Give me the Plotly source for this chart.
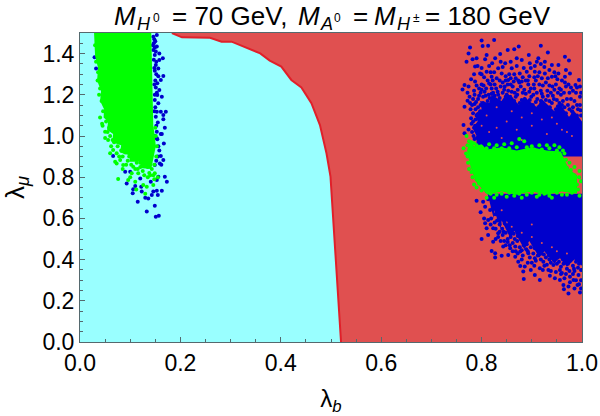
import plotly.graph_objects as go

# boundary of the allowed region
boundary_x = [0.0, 0.183, 0.203, 0.259, 0.282, 0.302, 0.359, 0.378, 0.401, 0.421, 0.441, 0.461, 0.478, 0.491, 0.499, 0.52]
boundary_y = [1.5, 1.5, 1.479, 1.477, 1.458, 1.458, 1.401, 1.366, 1.337, 1.272, 1.236, 1.159, 1.053, 0.916, 0.803, 0.0]

# solid point clouds (jagged outlines)
green_left_x = [0.028, 0.030, 0.036, 0.034, 0.042, 0.040, 0.048, 0.047, 0.056, 0.054, 0.066, 0.064, 0.082, 0.080, 0.100, 0.098, 0.122, 0.118, 0.142, 0.147, 0.151, 0.149, 0.146, 0.142]
green_left_y = [1.5, 1.39, 1.33, 1.27, 1.22, 1.17, 1.13, 1.09, 1.07, 1.03, 1.01, 0.97, 0.955, 0.92, 0.905, 0.875, 0.875, 0.845, 0.84, 0.90, 0.95, 1.00, 1.05, 1.5]
blue_up_x = [0.79, 0.782, 0.792, 0.788, 0.80, 0.797, 0.815, 0.82, 0.84, 0.85, 0.875, 0.885, 0.91, 0.92, 0.945, 0.955, 0.975, 0.982, 1.0, 1.0, 0.79]
blue_up_y = [1.0, 1.04, 1.07, 1.11, 1.13, 1.17, 1.16, 1.20, 1.17, 1.21, 1.15, 1.19, 1.14, 1.18, 1.12, 1.16, 1.09, 1.13, 1.07, 0.90, 0.90]
blue_low_x = [0.812, 1.0, 1.0, 0.985, 0.97, 0.955, 0.945, 0.925, 0.915, 0.895, 0.885, 0.865, 0.858, 0.84, 0.838, 0.825, 0.824]
blue_low_y = [0.72, 0.72, 0.37, 0.40, 0.365, 0.41, 0.38, 0.44, 0.41, 0.49, 0.45, 0.54, 0.50, 0.59, 0.55, 0.64, 0.60]
green_right_x = [0.771, 0.778, 0.785, 0.80, 0.81, 0.84, 0.87, 0.90, 0.93, 0.958, 0.966, 0.974, 0.99, 0.99, 0.96, 0.93, 0.90, 0.87, 0.84, 0.812, 0.80, 0.788, 0.778]
green_right_y = [0.93, 0.98, 0.95, 0.96, 0.935, 0.945, 0.93, 0.945, 0.93, 0.925, 0.88, 0.84, 0.81, 0.72, 0.73, 0.715, 0.73, 0.715, 0.73, 0.715, 0.745, 0.78, 0.85]

# individually read blue points
blue_pts = [
 (.777,1.43),(.800,1.463),(.802,1.437),(.813,1.438),(.825,1.466),(.852,1.418),(.865,1.421),(.874,1.434),(.918,1.438),(.932,1.405),
 (.966,1.385),(.974,1.366),(.774,1.401),(.782,1.372),(.770,1.361),(.790,1.377),(.787,1.337),(.810,1.393),(.807,1.372),(.827,1.377),
 (.837,1.398),(.821,1.353),(.847,1.353),(.833,1.329),(.870,1.377),(.880,1.369),(.894,1.393),(.913,1.377),(.910,1.361),(.896,1.353),
 (.940,1.345),(.953,1.345),(.926,1.361),(.953,1.304),(.994,1.272),(.976,1.304),(.966,1.288),(.987,1.248),(.779,1.275),(.766,1.248),
 (.774,1.24),(.762,1.226),(.787,1.264),(.797,1.304),(.810,1.312),(.820,1.288),(.840,1.304),(.860,1.329),(.876,1.304),(.890,1.312),
 (.906,1.312),(.926,1.304),(.940,1.288),(.853,1.272),(.766,1.142),(.764,1.053),(.774,1.032),(.766,1.013),(.779,1.086),(.772,1.171),
 (.783,1.18),(.790,1.10),(.795,1.06),(.785,1.22),(.800,1.25),(.812,1.27),(.826,1.25),(.836,1.27),(.846,1.24),(.858,1.25),
 (.868,1.28),(.878,1.24),(.888,1.27),(.898,1.23),(.908,1.27),(.918,1.22),(.928,1.26),(.938,1.21),(.948,1.25),(.958,1.20),
 (.968,1.24),(.978,1.18),(.988,1.21),(.996,1.15),(.996,1.19),(.982,1.14),(.962,1.17),(.944,1.18),(.903,1.20),(.866,1.21),
 (.850,1.20),(.912,1.29),(.960,1.27),(.898,1.33),(.870,1.34),(.815,1.34),(.800,1.33),(.785,1.30),(.772,1.21),(.777,1.16),
 (.945,1.31),(.882,1.285),(.842,1.335),(.925,1.335),(.855,1.30),(.805,1.285),(.795,1.23),(.820,1.23),(.990,1.10),(.780,1.06),
 # semi-dense upper cloud
 (.776,1.19),(.781,1.15),(.788,1.13),(.786,1.20),(.793,1.18),(.798,1.21),(.803,1.19),(.809,1.23),(.814,1.20),(.818,1.25),
 (.823,1.21),(.829,1.23),(.833,1.20),(.838,1.24),(.842,1.21),(.848,1.27),(.853,1.22),(.857,1.19),(.862,1.24),(.871,1.20),
 (.875,1.26),(.882,1.21),(.886,1.18),(.893,1.25),(.899,1.19),(.905,1.23),(.911,1.18),(.915,1.25),(.922,1.19),(.931,1.22),
 (.935,1.17),(.941,1.24),(.952,1.21),(.955,1.16),(.964,1.21),(.972,1.15),(.975,1.21),(.985,1.17),(.992,1.13),(.998,1.10),
 (.783,1.11),(.788,1.08),(.785,1.04),(.792,1.02),(.798,1.15),(.803,1.16),(.812,1.17),(.822,1.18),(.828,1.17),(.845,1.17),
 (.855,1.16),(.865,1.17),(.876,1.16),(.892,1.16),(.902,1.15),(.913,1.14),(.925,1.15),(.936,1.14),(.948,1.13),(.958,1.13),
 (.968,1.11),(.978,1.09),(.985,1.07),(.995,1.06),(.791,.99),(.786,.985),(.797,.975),(.803,.97),(.80,1.30),(.825,1.31),
 (.848,1.29),(.865,1.30),(.873,1.27),(.895,1.29),(.915,1.31),(.932,1.28),(.955,1.23),(.973,1.25),(.982,1.22),(.998,1.21),
 (.792,1.34),(.818,1.31),(.838,1.36),(.858,1.36),(.884,1.33),(.906,1.34),(.918,1.35),(.935,1.32),(.947,1.29),(.968,1.32),
 (.789,1.165),(.795,1.195),(.806,1.215),(.816,1.185),(.826,1.195),(.836,1.185),(.848,1.19),(.860,1.18),(.868,1.19),(.880,1.175),
 (.888,1.205),(.896,1.175),(.908,1.165),(.918,1.17),(.928,1.175),(.940,1.16),(.950,1.175),(.960,1.15),(.970,1.18),(.980,1.12),
 (.990,1.15),(.997,1.125),(.987,1.09),(.975,1.13),(.965,1.14),(.952,1.145),(.942,1.195),(.932,1.195),(.920,1.205),(.910,1.21),
 (.895,1.215),(.885,1.225),(.872,1.225),(.860,1.215),(.845,1.225),(.832,1.215),(.820,1.205),(.808,1.195),(.800,1.225),(.790,1.245),
 (.778,1.13),(.783,1.07),(.787,1.05),(.781,1.02),(.793,1.09),(.797,1.12),(.793,1.14),(.786,1.155),(.804,1.245),(.815,1.255),
 (.830,1.28),(.842,1.26),(.852,1.25),(.864,1.265),(.880,1.265),(.892,1.27),(.904,1.25),(.922,1.245),(.935,1.245),(.945,1.225),
 (.958,1.225),(.966,1.26),(.978,1.235),(.990,1.235),(.996,1.24),(.951,1.275),(.920,1.28),(.905,1.285),(.858,1.28),(.822,1.27),
 (.794,1.00),(.784,1.00),(.789,1.025),(.798,.99),(.806,.985),(.812,.975),(.825,.965),(.840,.97),(.855,.975),(.870,.975),
 # lower cloud edge
 (.790,.686),(.798,.630),(.805,.600),(.807,.576),(.810,.552),(.800,.500),(.813,.520),(.823,.487),(.820,.442),(.827,.431),
 (.827,.410),(.840,.419),(.843,.463),(.857,.455),(.853,.422),(.867,.414),(.873,.390),(.877,.369),(.886,.366),(.883,.342),
 (.898,.350),(.906,.325),(.884,.306),(.916,.301),(.916,.358),(.933,.350),(.936,.321),(.946,.309),(.956,.301),(.963,.277),
 (.973,.269),(.964,.256),(.973,.236),(.996,.240),(.991,.277),(.983,.301),(.993,.325),(.976,.317),(.956,.350),(.943,.374),
 (.923,.390),(.906,.406),(.893,.431),(.877,.439),(.867,.463),(.833,.528),(.823,.552),(.813,.592),(.817,.641),(.807,.657),
 (.803,.681),(.813,.693),(.823,.673),(.835,.60),(.828,.50),(.845,.49),(.868,.44),(.90,.385),(.93,.375),(.96,.335),
 (.985,.345),(.998,.30),(.975,.345),(.95,.38),
 (.816,.70),(.822,.65),(.827,.62),(.819,.60),(.826,.58),(.831,.59),(.818,.57),(.828,.55),(.836,.57),(.841,.55),
 (.833,.51),(.842,.52),(.848,.53),(.838,.49),(.852,.50),(.858,.51),(.848,.47),(.862,.48),(.871,.49),(.856,.47),
 (.876,.46),(.884,.47),(.889,.45),(.872,.43),(.882,.42),(.896,.41),(.903,.43),(.912,.42),(.919,.43),(.928,.41),
 (.935,.40),(.945,.40),(.954,.39),(.963,.38),(.972,.38),(.982,.37),(.992,.36),(.998,.35),(.925,.37),(.938,.345),
 (.948,.34),(.968,.33),(.982,.33),(.965,.31),(.976,.29),(.988,.30),(.994,.28),(.985,.26),(.998,.26),(.958,.33),
 (.832,.63),(.836,.615),(.842,.60),(.846,.575),(.852,.56),(.858,.545),(.864,.525),(.872,.515),(.878,.50),(.884,.49),
 (.890,.475),(.898,.46),(.906,.455),(.914,.44),(.924,.425),(.934,.42),(.944,.415),(.952,.41),(.962,.40),(.976,.395),
 (.988,.39),(.994,.38),(.844,.535),(.836,.535),(.852,.485),(.866,.50),(.880,.445),(.892,.44),(.908,.395),(.918,.40),
 (.938,.385),(.958,.365),(.970,.355),(.984,.355),(.922,.35),(.905,.37),(.892,.385),(.880,.40),(.862,.44),
 # left cluster
 (.151,.608),(.157,.613),(.133,.633),(.149,.662),(.115,.681),(.136,.697),(.130,.700),(.143,.713),(.155,.713),(.146,.730),
 (.163,.734),(.105,.722),(.106,.741),(.110,.757),(.122,.754),(.123,.730),(.153,.734),(.173,.778),(.169,.802),(.153,.786),
 (.141,.778),(.156,.802),(.093,.770),(.090,.827),(.100,.827),(.120,.794),(.166,.883),(.161,.903),(.159,.867),(.149,.859),
 (.167,.964),(.161,1.01),(.154,.984),(.066,.903),(.096,.929),(.082,.967),
 (.146,1.482),(.153,1.49),(.147,1.45),(.153,1.434),(.146,1.417),(.149,1.393),(.158,1.401),(.165,1.377),(.158,1.369),(.151,1.345),
 (.156,1.328),(.149,1.317),(.166,1.291),(.161,1.272),(.154,1.256),(.151,1.236),(.158,1.223),(.154,1.199),(.163,1.191),(.149,1.175),
 (.156,1.159),(.153,1.118),(.161,1.118),(.171,1.118),(.166,1.102),(.151,1.094),(.166,1.081),(.155,1.065),(.169,1.040),(.153,1.021),
 (.163,1.010),(.149,1.0),(.153,.989),(.029,1.382),(.032,1.328),(.148,1.47),(.150,1.46),(.145,1.44),(.149,1.43),(.151,1.41),
 (.147,1.37),(.152,1.36),(.148,1.33),(.152,1.30),(.150,1.27),(.156,1.29),(.148,1.25),(.153,1.21),(.149,1.20),(.150,1.14),
 (.148,1.12),(.152,1.05),(.156,.95),(.158,.93),(.155,.90),(.162,.86),(.152,.88),
]
blue_x = [p[0] for p in blue_pts]
blue_y = [p[1] for p in blue_pts]

# individually read green points
green_pts = [
 (.076,.791),(.103,.819),(.133,.754),(.096,.786),(.116,.819),(.086,.859),(.070,.875),(.080,.883),(.060,.916),(.056,.980),
 (.050,1.021),(.073,.867),(.110,.778),(.126,.762),(.146,.762),(.149,.819),(.106,.851),(.066,.932),(.073,.916),(.045,1.05),
 (.040,1.09),(.050,.99),(.062,.95),(.085,.90),(.095,.88),(.110,.84),(.125,.83),(.135,.80),(.100,.80),(.085,.84),
 (.120,.85),(.140,.81),(.155,.80),(.130,.72),(.112,.74),(.148,.79),(.038,1.20),(.035,1.27),
 (.030,1.44),(.032,1.36),(.036,1.31),(.040,1.23),(.043,1.17),(.046,1.12),(.044,1.06),(.052,1.07),(.055,1.02),(.060,1.00),
 (.068,.97),(.075,.95),(.082,.93),(.090,.92),(.098,.90),(.105,.89),(.113,.87),(.120,.87),(.128,.86),(.135,.85),
 (.143,.84),(.148,.86),(.152,.90),(.153,.95),(.151,1.00),(.150,1.04),(.078,.90),(.092,.86),(.102,.86),(.115,.84),
 (.128,.81),(.138,.82),(.146,.81),(.065,.98),(.058,1.04),
 # right band edges
 (.764,.94),(.770,1.0),(.775,.975),(.785,.965),(.772,.90),(.775,.84),(.782,.80),(.785,.765),(.790,.75),(.800,.735),
 (.815,.96),(.83,.955),(.845,.96),(.860,.965),(.875,.985),(.885,.975),(.90,.95),(.915,.955),(.93,.955),(.945,.955),
 (.955,.945),(.965,.915),(.975,.87),(.985,.85),(.995,.83),(.998,.78),(.985,.74),(.995,.71),(.97,.715),(.94,.70),
 (.91,.705),(.88,.70),(.85,.705),(.825,.70),(.81,.70),
 (.772,.955),(.777,.93),(.769,.915),(.773,.87),(.778,.885),(.78,.825),(.785,.835),(.79,.79),(.795,.77),(.803,.755),
 (.81,.73),(.818,.72),(.83,.715),(.84,.72),(.855,.725),(.865,.71),(.875,.72),(.89,.715),(.90,.725),(.915,.715),
 (.925,.72),(.935,.71),(.95,.725),(.96,.715),(.98,.725),(.992,.74),(.99,.765),(.994,.80),(.985,.81),(.978,.835),
 (.97,.845),(.968,.885),(.962,.93),(.95,.93),(.935,.94),(.92,.935),(.905,.935),(.89,.945),(.87,.945),(.855,.94),
 (.84,.94),(.825,.94),(.81,.94),(.80,.945),(.79,.955),(.78,.97),
]
green_x = [p[0] for p in green_pts]
green_y = [p[1] for p in green_pts]

# red gaps left visible in the blue clouds
gap_pts = [
 (.83,1.14),(.86,1.12),(.88,1.09),(.90,1.11),(.92,1.08),(.94,1.09),(.85,1.07),(.87,1.03),(.90,1.05),(.83,1.04),
 (.95,1.06),(.97,1.02),(.96,1.03),(.81,1.10),(.80,1.05),(.815,1.02),(.93,1.01),(.98,1.00),(.84,.99),(.88,.98),
 (.84,.64),(.85,.58),(.86,.56),(.88,.53),(.90,.51),(.92,.48),(.94,.46),(.95,.44),(.90,.57),(.97,.43),
]
gap_x = [p[0] for p in gap_pts]
gap_y = [p[1] for p in gap_pts]

# title pieces: text, italic, font size, left edge (px), vertical centre (px)
title_text = ["M", "H", "0", "= 70 GeV,", "M", "A", "0", "=", "M", "H", "±", "= 180 GeV"]
title_size = [26, 18, 12, 26, 26, 18, 12, 26, 26, 18, 12, 26]
title_left = [113, 136, 152, 171, 297, 319, 333, 352, 373, 396, 412, 424]
title_mid = [16, 24, 18, 16, 16, 24, 18, 16, 16, 24, 18, 16]
title_italic = [True, True, False, False, True, True, False, False, True, True, False, False]

RED = "#e05050"
CYAN = "#99ffff"
BLUE = "#0000cc"
GREEN = "#00ff00"
FRAME = "#55696e"
LEFT, RIGHT, TOP, BOTTOM = 80, 582, 33, 342

fig = go.Figure()
cyan_x = boundary_x + [0.0, 0.0]
cyan_y = boundary_y + [0.0, 1.5]
fig.add_trace(go.Scatter(x=cyan_x, y=cyan_y, mode="lines", fill="toself", fillcolor=CYAN, line=dict(width=0), hoverinfo="skip"))
fig.add_trace(go.Scatter(x=boundary_x[1:], y=boundary_y[1:], mode="lines", line=dict(color="#e0202a", width=2)))
for xs, ys, col in [(blue_up_x, blue_up_y, BLUE), (blue_low_x, blue_low_y, BLUE)]:
    fig.add_trace(go.Scatter(x=xs, y=ys, mode="lines", fill="toself", fillcolor=col, line=dict(width=0)))
fig.add_trace(go.Scatter(x=gap_x, y=gap_y, mode="markers", marker=dict(color=RED, size=2)))
fig.add_trace(go.Scatter(x=blue_x, y=blue_y, mode="markers", marker=dict(color=BLUE, size=4)))
for xs, ys, col in [(green_left_x, green_left_y, GREEN), (green_right_x, green_right_y, GREEN)]:
    fig.add_trace(go.Scatter(x=xs, y=ys, mode="lines", fill="toself", fillcolor=col, line=dict(width=0)))
fig.add_trace(go.Scatter(x=green_x, y=green_y, mode="markers", marker=dict(color=GREEN, size=4)))

font = "Liberation Sans"
axis = dict(showgrid=False, zeroline=False, ticks="inside", tickcolor=FRAME, ticklen=5, tickwidth=1,
            showline=True, linecolor=FRAME, linewidth=1, mirror=True, tickformat=".1f", automargin=False,
            tickfont=dict(family=font, size=23, color="black"))
annotations = []
for t, s, l, m, it in zip(title_text, title_size, title_left, title_mid, title_italic):
    annotations.append(dict(
        text=f"<i>{t}</i>" if it else t, showarrow=False, xref="paper", yref="paper",
        x=(l - LEFT) / (RIGHT - LEFT), y=(BOTTOM - m) / (BOTTOM - TOP),
        xanchor="left", yanchor="middle", borderpad=0, font=dict(family=font, size=s, color="black")))
fig.update_layout(
    width=600, height=416, showlegend=False,
    margin=dict(l=LEFT, r=600 - RIGHT, t=TOP, b=416 - BOTTOM, autoexpand=False),
    paper_bgcolor="white", plot_bgcolor=RED,
    font=dict(family=font, color="black"),
    annotations=annotations,
    xaxis=dict(axis, range=[0, 1], dtick=0.2, tick0=0, minor=dict(dtick=0.05, ticks="inside", ticklen=3, tickcolor=FRAME),
               title=dict(text="λ<sub><i>b</i></sub>", font=dict(family=font, size=24))),
    yaxis=dict(axis, range=[0, 1.5], dtick=0.2, tick0=0, minor=dict(dtick=0.05, ticks="inside", ticklen=3, tickcolor=FRAME),
               title=dict(text="λ<sub><i>μ</i></sub>", font=dict(family=font, size=26))),
)
fig.write_html("out.html", post_script="document.body.style.margin='0px';", config={"displayModeBar": False})
